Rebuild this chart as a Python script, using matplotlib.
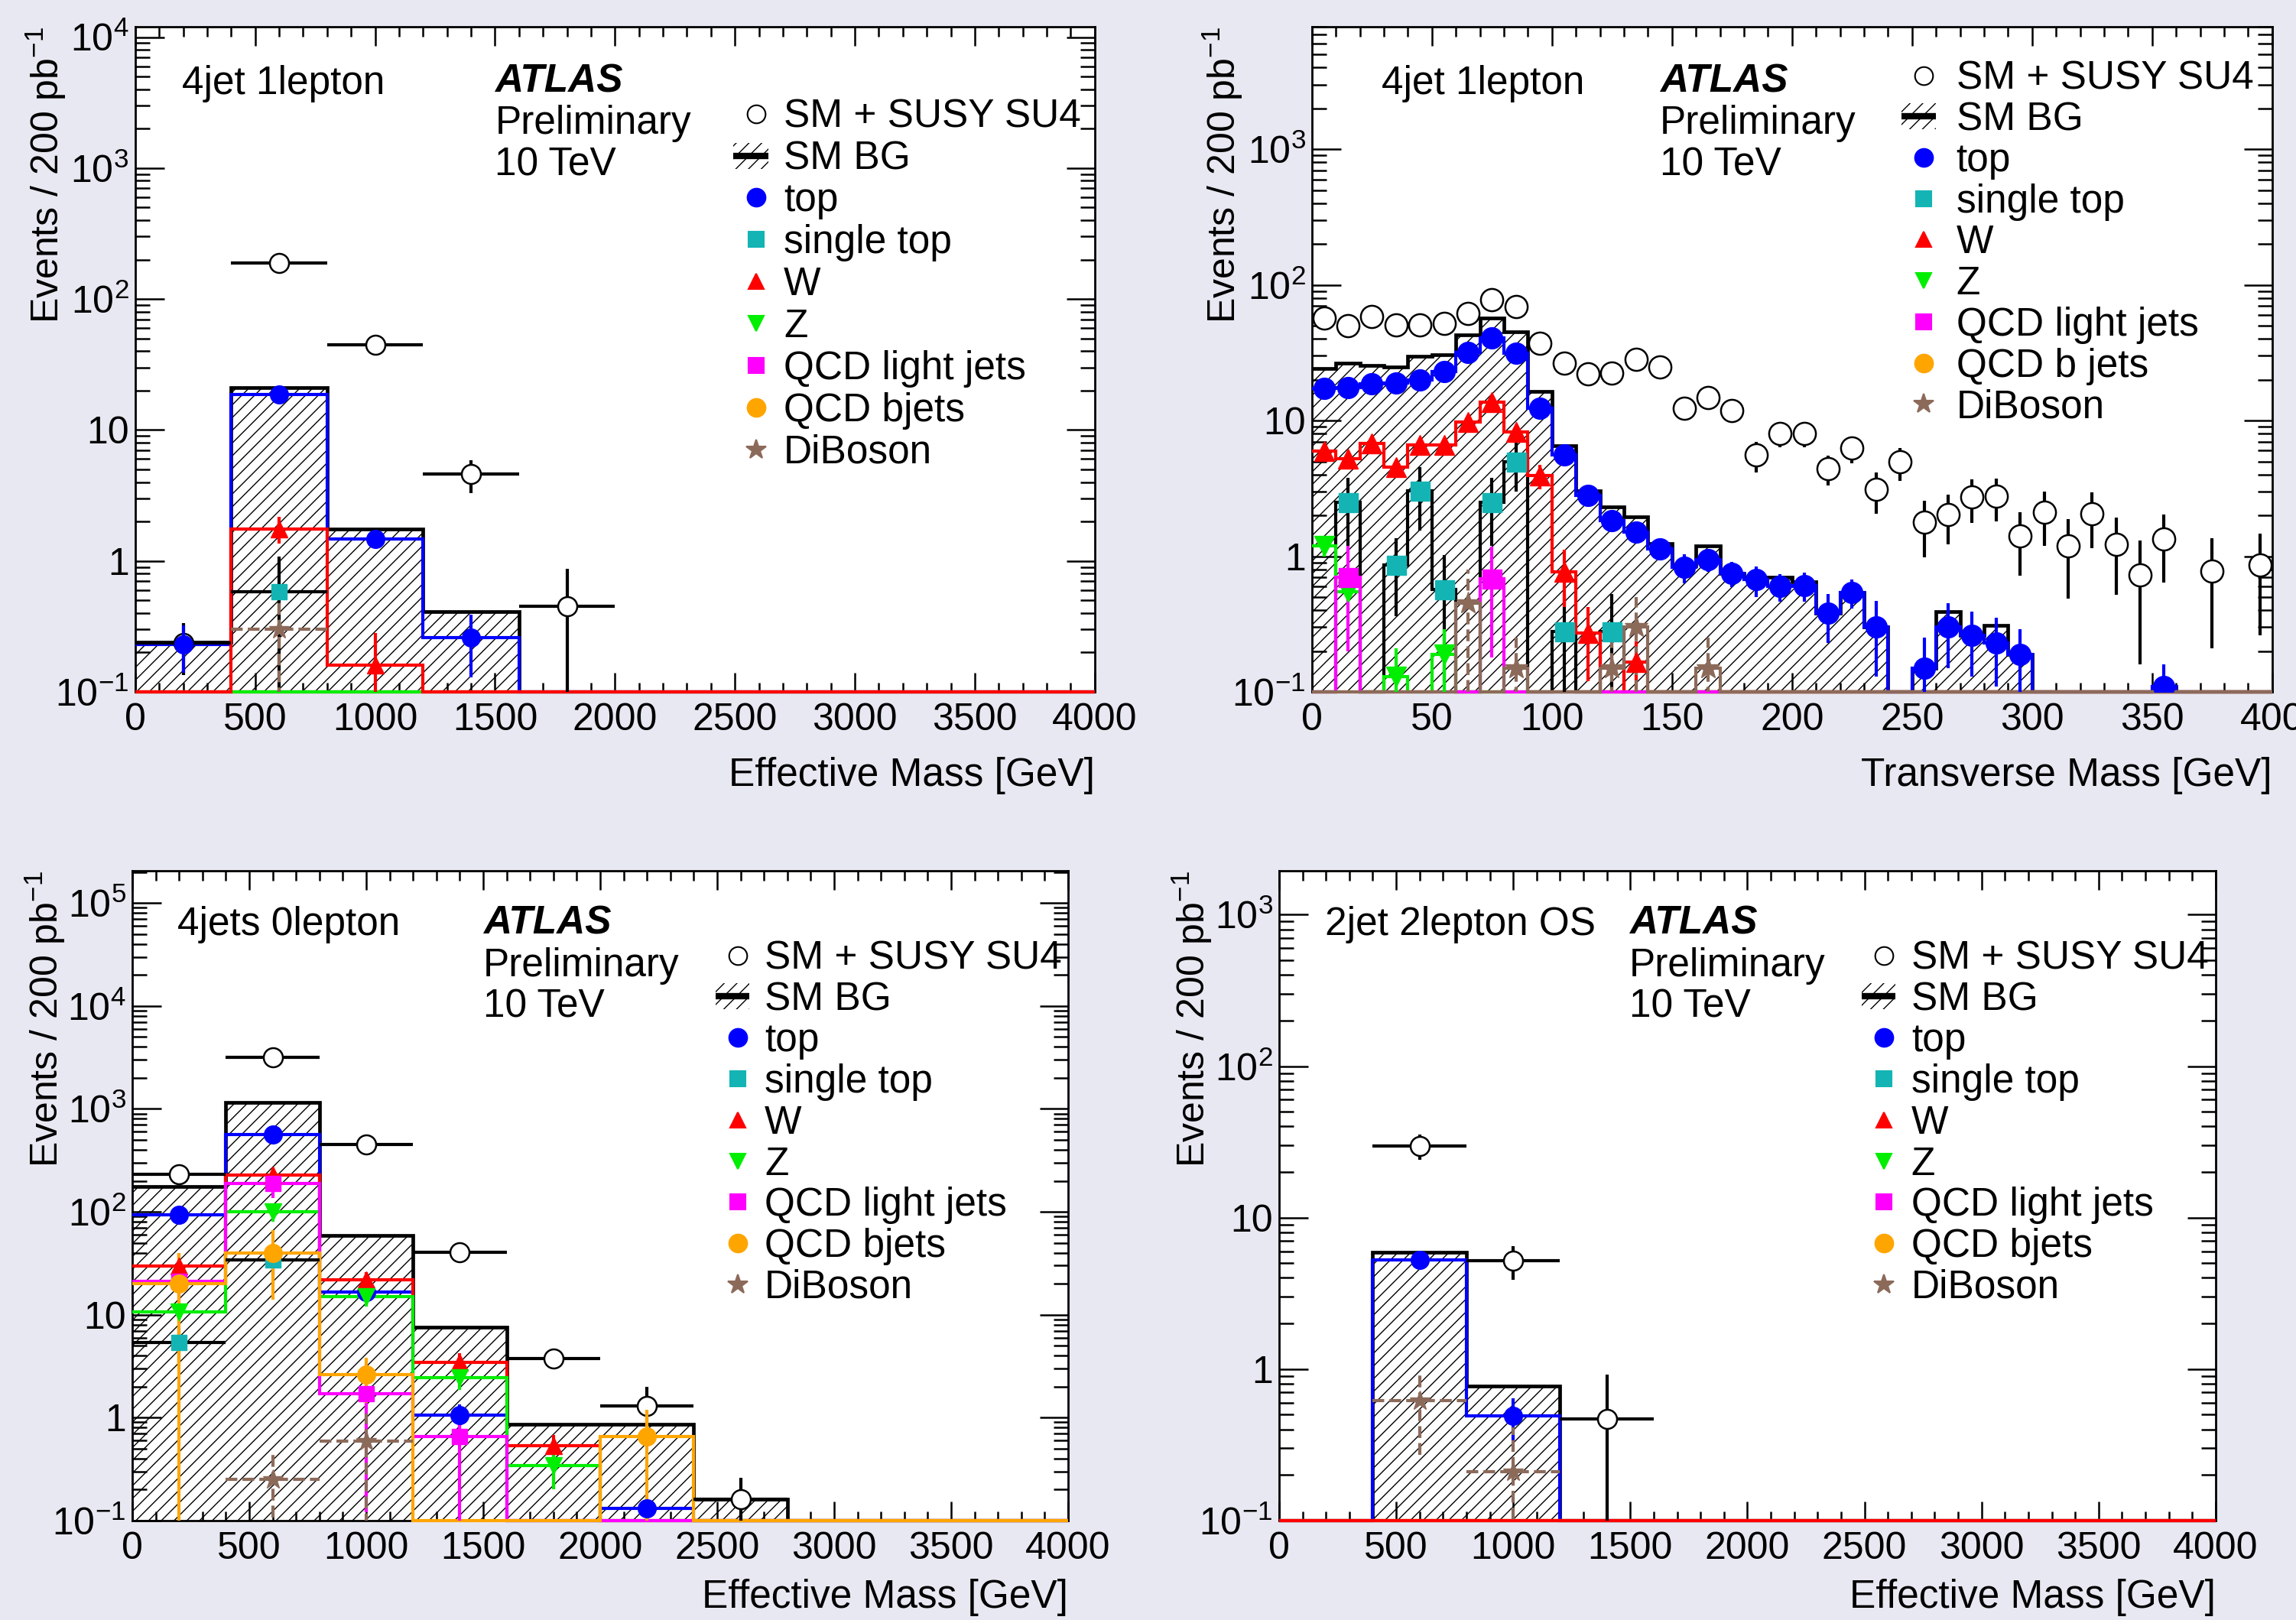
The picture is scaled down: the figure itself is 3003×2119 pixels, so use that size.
import numpy as np
import matplotlib
matplotlib.use('Agg')
import matplotlib.pyplot as plt
from matplotlib.patches import Rectangle
from matplotlib.ticker import LogLocator, MultipleLocator, FuncFormatter, NullFormatter

plt.rcParams['font.family'] = ['Liberation Sans', 'DejaVu Sans']
plt.rcParams['mathtext.fontset'] = 'custom'
plt.rcParams['mathtext.rm'] = 'Liberation Sans'
plt.rcParams['mathtext.it'] = 'Liberation Sans:italic'
plt.rcParams['mathtext.bf'] = 'Liberation Sans:bold'
plt.rcParams['hatch.linewidth'] = 1.0
plt.rcParams['hatch.color'] = 'black'

BG = '#e8e8f2'
COLORS = {'top': '#0000ff', 'stop': '#14b4b4', 'w': '#ff0000', 'z': '#00ee00',
          'ql': '#ff00ff', 'qb': '#ffa500', 'vv': '#8c6a5a'}
YMIN = 0.1

# ---------------- data ----------------
meff_edges = np.arange(0, 4001, 400)
mt_edges = np.arange(0, 401, 10)

# 4jet 1lepton, effective mass
p1_susy = [0.235, 188, 44.7, 4.6, 0.45, 0, 0, 0, 0, 0]
p1_susy_err = [0.1, 14, 6.7, 1.3, 0.42, 0, 0, 0, 0, 0]
p1_bg = [0.24, 21, 1.76, 0.41, 0, 0, 0, 0, 0, 0]
p1_top = [0.23, 18.6, 1.47, 0.26, 0, 0, 0, 0, 0, 0]
p1_top_err = [0.09, 1.2, 0.15, 0.13, 0, 0, 0, 0, 0, 0]
p1_stop = [0, 0.58, 0, 0, 0, 0, 0, 0, 0, 0]
p1_stop_err = [0, 0.5, 0, 0, 0, 0, 0, 0, 0, 0]
p1_w = [0, 1.76, 0.16, 0, 0, 0, 0, 0, 0, 0]
p1_w_err = [0, 0.4, 0.12, 0, 0, 0, 0, 0, 0, 0]
p1_z = [0, 0, 0, 0, 0, 0, 0, 0, 0, 0]
p1_ql = [0, 0, 0, 0, 0, 0, 0, 0, 0, 0]
p1_qb = [0, 0, 0, 0, 0, 0, 0, 0, 0, 0]
p1_vv = [0, 0.3, 0, 0, 0, 0, 0, 0, 0, 0]
p1_vv_err = [0, 0.28, 0, 0, 0, 0, 0, 0, 0, 0]

# 4jet 1lepton, transverse mass
p2_susy = [56.8, 50, 58.8, 50.8, 50.8, 52, 61.5, 78, 69, 37,
           26.4, 22.2, 22.5, 28.2, 24.8, 12.4, 14.7, 11.8, 5.55, 8.05,
           8.05, 4.43, 6.25, 3.12, 4.94, 1.78, 2.03, 2.73, 2.78, 1.42,
           2.1, 1.19, 2.05, 1.22, 0.73, 1.34, 0, 0.78, 0, 0.86]
p2_susy_err = [5.5, 5, 5.5, 5, 5, 5, 6, 7, 6.5, 4.5,
               3, 2.7, 2.7, 3, 2.8, 1.8, 2, 1.8, 1.4, 1.7,
               1.7, 1.1, 1.4, 1.05, 1.35, 0.8, 0.8, 0.97, 0.97, 0.7,
               0.9, 0.7, 0.9, 0.7, 0.57, 0.7, 0, 0.57, 0, 0.6]
p2_bg = [24.2, 26.4, 25.6, 24.8, 29.6, 30.7, 42.6, 57.2, 45.1, 16.3,
         6.55, 3.04, 2.32, 1.96, 1.24, 0.85, 1.19, 0.75, 0.70, 0.70,
         0.65, 0.38, 0.54, 0.30, 0, 0.15, 0.39, 0.26, 0.31, 0.19,
         0, 0, 0, 0, 0, 0.11, 0, 0, 0, 0]
p2_top = [17.3, 17.5, 18.6, 18.8, 19.8, 23.1, 31.9, 40.5, 31.5, 12.4,
          5.6, 2.8, 1.82, 1.51, 1.13, 0.83, 0.94, 0.75, 0.67, 0.60,
          0.61, 0.38, 0.54, 0.30, 0, 0.15, 0.30, 0.26, 0.23, 0.19,
          0, 0, 0, 0, 0, 0.11, 0, 0, 0, 0]
p2_top_err = [0.9, 0.9, 0.9, 0.9, 1, 1.1, 1.5, 2, 1.5, 0.8,
              0.5, 0.3, 0.25, 0.2, 0.15, 0.2, 0.17, 0.16, 0.17, 0.14,
              0.15, 0.15, 0.13, 0.17, 0, 0.1, 0.15, 0.13, 0.12, 0.1,
              0, 0, 0, 0, 0, 0.05, 0, 0, 0, 0]
p2_stop = [0, 2.5, 0, 0.86, 3.04, 0.57, 0, 2.5, 4.99, 0,
           0.28, 0, 0.28] + [0] * 27
p2_stop_err = [0, 1.3, 0, 0.5, 1.5, 0.45, 0, 1.3, 2.0, 0,
               0.25, 0, 0.25] + [0] * 27
p2_w = [5.96, 5.24, 6.8, 4.54, 6.64, 6.64, 9.8, 13.6, 8.24, 3.93,
        0.77, 0.27, 0, 0.167] + [0] * 26
p2_w_err = [0.4, 0.4, 0.5, 0.5, 0.5, 0.5, 0.7, 0.9, 0.7, 0.8,
            0.35, 0.15, 0, 0.07] + [0] * 26
p2_z = [1.19, 0.55, 0, 0.13, 0, 0.19] + [0] * 34
p2_z_err = [0.2, 0.1, 0, 0.08, 0, 0.1] + [0] * 34
p2_ql = [0, 0.70, 0, 0, 0, 0, 0, 0.68] + [0] * 32
p2_ql_err = [0, 0.5, 0, 0, 0, 0, 0, 0.5] + [0] * 32
p2_qb = [0] * 40
p2_vv = [0, 0, 0, 0, 0, 0, 0.45, 0, 0.15, 0, 0, 0, 0.15, 0.30, 0, 0, 0.15] + [0] * 23
p2_vv_err = [0, 0, 0, 0, 0, 0, 0.35, 0, 0.1, 0, 0, 0, 0.1, 0.2, 0, 0, 0.1] + [0] * 23

# 4jets 0lepton, effective mass
p3_susy = [230, 3180, 449, 40.6, 3.76, 1.29, 0.16, 0, 0, 0]
p3_susy_err = [15, 56, 21, 6, 0.5, 0.7, 0.1, 0, 0, 0]
p3_bg = [175, 1155, 58.6, 7.6, 0.855, 0.86, 0.16, 0, 0, 0]
p3_top = [93, 560, 16.6, 1.05, 0, 0.132, 0, 0, 0, 0]
p3_top_err = [5, 30, 2, 0.3, 0, 0.03, 0, 0, 0, 0]
p3_stop = [5.4, 34, 0, 0, 0, 0, 0, 0, 0, 0]
p3_stop_err = [2, 10, 0, 0, 0, 0, 0, 0, 0, 0]
p3_w = [29.7, 228, 22, 3.44, 0.53, 0, 0, 0, 0, 0]
p3_w_err = [10, 40, 4, 0.8, 0.15, 0, 0, 0, 0, 0]
p3_z = [10.7, 100, 15, 2.45, 0.34, 0, 0, 0, 0, 0]
p3_z_err = [2.5, 20, 3, 0.6, 0.14, 0, 0, 0, 0, 0]
p3_ql = [21, 187, 1.72, 0.66, 0, 0, 0, 0, 0, 0]
p3_ql_err = [8, 50, 1.6, 0.6, 0, 0, 0, 0, 0, 0]
p3_qb = [20, 40, 2.6, 0, 0, 0.65, 0, 0, 0, 0]
p3_qb_err = [20, 26, 1.2, 0, 0, 0.55, 0, 0, 0, 0]
p3_vv = [0, 0.25, 0.59, 0, 0, 0, 0, 0, 0, 0]
p3_vv_err = [0, 0.2, 0.5, 0, 0, 0, 0, 0, 0, 0]

# 2jet 2lepton OS, effective mass
p4_susy = [0, 29.7, 5.19, 0.47, 0, 0, 0, 0, 0, 0]
p4_susy_err = [0, 5.5, 1.3, 0.45, 0, 0, 0, 0, 0, 0]
p4_bg = [0, 5.9, 0.77, 0, 0, 0, 0, 0, 0, 0]
p4_top = [0, 5.27, 0.49, 0, 0, 0, 0, 0, 0, 0]
p4_top_err = [0, 0.5, 0.15, 0, 0, 0, 0, 0, 0, 0]
p4_vv = [0, 0.62, 0.21, 0, 0, 0, 0, 0, 0, 0]
p4_vv_err = [0, 0.35, 0.2, 0, 0, 0, 0, 0, 0, 0]
p4_zero = [0] * 10

legend_labels = ['SM + SUSY SU4', 'SM BG', 'top', 'single top', 'W', 'Z',
                 'QCD light jets', 'QCD bjets', 'DiBoson']


def floor(v):
    v = np.asarray(v, float)
    return np.where(v > 0, v, YMIN)


def stairs(ax, edges, vals, color, lw=3.0, z=3):
    ax.stairs(floor(vals), edges, baseline=None, color=color, lw=lw,
              zorder=z, clip_on=False)


def points(ax, edges, vals, errs, color, marker, ms, xerr=False, ecolor=None,
           ls='-', mfc=None, mec=None, mew=1.0, z=6):
    centers = 0.5 * (edges[:-1] + edges[1:])
    vals = np.asarray(vals, float)
    errs = np.asarray(errs, float)
    m = vals > 0
    if not m.any():
        return
    y = vals[m]
    e = errs[m]
    lo = np.minimum(e, y - 1e-4)
    xe = 0.5 * np.diff(edges)[m] if xerr else None
    _, _, bars = ax.errorbar(centers[m], y, yerr=[lo, e], xerr=xe, fmt=marker,
                             ms=ms, color=ecolor or color, mfc=mfc or color,
                             mec=mec or color, mew=mew, elinewidth=3.0,
                             capsize=0, zorder=z)
    for b in bars:
        b.set_linestyle(ls)


def ylab(v, pos):
    e = int(round(np.log10(v)))
    if e == 0:
        return '1'
    if e == 1:
        return '10'
    return r'$\mathregular{10^{%d}}$' % e


def style_axes(ax, xmax, xmajor, xminor, ymax, xlabel, xlab_y):
    ax.set_yscale('log')
    ax.set_xlim(0, xmax)
    ax.set_ylim(YMIN, ymax)
    ax.xaxis.set_major_locator(MultipleLocator(xmajor))
    ax.xaxis.set_minor_locator(MultipleLocator(xminor))
    ax.yaxis.set_major_locator(LogLocator(base=10, numticks=20))
    ax.yaxis.set_minor_locator(LogLocator(base=10, subs=np.arange(2, 10), numticks=20))
    ax.yaxis.set_major_formatter(FuncFormatter(ylab))
    ax.yaxis.set_minor_formatter(NullFormatter())
    ax.tick_params(axis='both', which='both', direction='in', top=True, right=True,
                   width=1.8, colors='black')
    ax.tick_params(axis='x', which='major', length=18, labelsize=36, pad=10)
    ax.tick_params(axis='x', which='minor', length=9)
    ax.tick_params(axis='y', which='major', length=27, labelsize=36, pad=6)
    ax.tick_params(axis='y', which='minor', length=14)
    for s in ax.spines.values():
        s.set_linewidth(2.0)
    ax.text(1.0, xlab_y, xlabel, transform=ax.transAxes, ha='right', va='center',
            fontsize=37)
    ax.text(-0.093, 1.0, r'Events / 200 pb$^{\mathregular{-1}}$', transform=ax.transAxes,
            rotation=90, ha='center', va='top', fontsize=36)


def header(ax, tag, tag_x, atlas_x, ys):
    ax.text(tag_x, ys[0], tag, transform=ax.transAxes, fontsize=37, va='baseline')
    ax.text(atlas_x, ys[1], 'ATLAS', transform=ax.transAxes, fontsize=37,
            va='baseline', fontweight='bold', fontstyle='italic')
    ax.text(atlas_x, ys[2], 'Preliminary', transform=ax.transAxes, fontsize=37, va='baseline')
    ax.text(atlas_x, ys[3], '10 TeV', transform=ax.transAxes, fontsize=37, va='baseline')


def legend(ax, mx, tx, y0, dy, labels, ax_h_px):
    cap = 18.0 / ax_h_px
    handles = [('o', 'white', 'black'), None, ('o', COLORS['top'], COLORS['top']),
               ('s', COLORS['stop'], COLORS['stop']), ('^', COLORS['w'], COLORS['w']),
               ('v', COLORS['z'], COLORS['z']), ('s', COLORS['ql'], COLORS['ql']),
               ('o', COLORS['qb'], COLORS['qb']), ('*', COLORS['vv'], COLORS['vv'])]
    for i, (lab, h) in enumerate(zip(labels, handles)):
        yb = y0 - i * dy
        yc = yb + cap
        ax.text(tx, yb, lab, transform=ax.transAxes, fontsize=37, va='baseline')
        if h is None:
            w = 0.036
            hh = 34.0 / ax_h_px
            ax.add_patch(Rectangle((mx - w * 0.65, yc - hh / 2), w, hh, transform=ax.transAxes,
                                   fill=False, hatch='//', lw=0, clip_on=False))
            ax.plot([mx - w * 0.65, mx + w * 0.35], [yc, yc], color='black', lw=6,
                    transform=ax.transAxes, clip_on=False, solid_capstyle='butt')
        else:
            mk, fc, ec = h
            ms = {'o': 17, 's': 15, '^': 15, 'v': 15, '*': 19}[mk]
            ax.plot([mx], [yc], marker=mk, ms=ms, mfc=fc, mec=ec, mew=1.5,
                    ls='none', transform=ax.transAxes, clip_on=False)


def panel(ax, edges, susy, susy_err, bg, comps, order, as_points, ms):
    ax.stairs(floor(bg), edges, baseline=YMIN, fill=True, facecolor='none',
              edgecolor='black', hatch='//', lw=0, zorder=1)
    ax.stairs(floor(bg), edges, baseline=None, color='black', lw=3.4, zorder=2)
    markers = {'top': 'o', 'stop': 's', 'w': '^', 'z': 'v', 'ql': 's', 'qb': 'o', 'vv': '*'}
    msz = {'o': ms, 's': ms - 2, '^': ms - 1, 'v': ms - 1, '*': ms + 2}
    for key in order:
        vals, errs = comps[key]
        col = COLORS[key]
        mk = markers[key]
        ls = '--' if key == 'vv' else '-'
        if key in as_points:
            ec = 'black' if key == 'stop' else col
            points(ax, edges, vals, errs, col, mk, msz[mk], xerr=True, ecolor=ec, ls=ls)
        else:
            line_col = 'black' if key == 'stop' else col
            stairs(ax, edges, vals, line_col)
            points(ax, edges, vals, errs, col, mk, msz[mk], ecolor=line_col, ls=ls)
    points(ax, edges, susy, susy_err, 'black', 'o', ms + 1, xerr=(len(edges) < 20),
           mfc='white', mec='black', mew=1.8, z=5)


fig = plt.figure(figsize=(30.03, 21.19), dpi=100, facecolor=BG)
H = 2119

ax1 = fig.add_axes([0.0589, 0.5729, 0.4179, 0.4106])
ax2 = fig.add_axes([0.5714, 0.5729, 0.4182, 0.4106])
ax3 = fig.add_axes([0.0576, 0.0614, 0.4076, 0.4011])
ax4 = fig.add_axes([0.5571, 0.0614, 0.4079, 0.4011])

top_y = [0.8993, 0.9016, 0.8385, 0.776]
bot_y = [0.9006, 0.9024, 0.838, 0.7745]

# panel 1
panel(ax1, meff_edges, p1_susy, p1_susy_err, p1_bg,
      {'top': (p1_top, p1_top_err), 'stop': (p1_stop, p1_stop_err),
       'w': (p1_w, p1_w_err), 'z': (p1_z, p1_z), 'ql': (p1_ql, p1_ql),
       'qb': (p1_qb, p1_qb), 'vv': (p1_vv, p1_vv_err)},
      ['top', 'stop', 'ql', 'qb', 'z', 'vv', 'w'], ['stop', 'vv'], 17)
style_axes(ax1, 4000, 500, 100, 1.2e4, 'Effective Mass [GeV]', -0.126)
header(ax1, '4jet 1lepton', 0.049, 0.375, top_y)
legend(ax1, 0.647, 0.676, 0.8486, 0.0631, legend_labels, 0.4106 * H)

# panel 2
panel(ax2, mt_edges, p2_susy, p2_susy_err, p2_bg,
      {'top': (p2_top, p2_top_err), 'stop': (p2_stop, p2_stop_err),
       'w': (p2_w, p2_w_err), 'z': (p2_z, p2_z_err), 'ql': (p2_ql, p2_ql_err),
       'qb': (p2_qb, p2_qb), 'vv': (p2_vv, p2_vv_err)},
      ['top', 'stop', 'w', 'z', 'qb', 'ql', 'vv'], [], 20)
style_axes(ax2, 400, 50, 10, 8000, 'Transverse Mass [GeV]', -0.126)
header(ax2, '4jet 1lepton', 0.0725, 0.3623, top_y)
legend(ax2, 0.637, 0.671, 0.906, 0.0617,
       legend_labels[:7] + ['QCD b jets', 'DiBoson'], 0.4106 * H)

# panel 3
panel(ax3, meff_edges, p3_susy, p3_susy_err, p3_bg,
      {'top': (p3_top, p3_top_err), 'stop': (p3_stop, p3_stop_err),
       'w': (p3_w, p3_w_err), 'z': (p3_z, p3_z_err), 'ql': (p3_ql, p3_ql_err),
       'qb': (p3_qb, p3_qb_err), 'vv': (p3_vv, p3_vv_err)},
      ['top', 'stop', 'w', 'z', 'ql', 'vv', 'qb'], ['stop', 'vv'], 17)
style_axes(ax3, 4000, 500, 100, 2.06e5, 'Effective Mass [GeV]', -0.118)
header(ax3, '4jets 0lepton', 0.0486, 0.3747, bot_y)
legend(ax3, 0.6467, 0.6757, 0.8487, 0.0633, legend_labels, 0.4011 * H)

# panel 4
panel(ax4, meff_edges, p4_susy, p4_susy_err, p4_bg,
      {'top': (p4_top, p4_top_err), 'stop': (p4_zero, p4_zero),
       'w': (p4_zero, p4_zero), 'z': (p4_zero, p4_zero), 'ql': (p4_zero, p4_zero),
       'qb': (p4_zero, p4_zero), 'vv': (p4_vv, p4_vv_err)},
      ['top', 'ql', 'qb', 'z', 'stop', 'vv', 'w'], ['stop', 'vv'], 17)
style_axes(ax4, 4000, 500, 100, 1950, 'Effective Mass [GeV]', -0.118)
header(ax4, '2jet 2lepton OS', 0.049, 0.3738, bot_y)
legend(ax4, 0.6454, 0.675, 0.8487, 0.0633, legend_labels, 0.4011 * H)

fig.savefig('out.png', dpi=100, facecolor=BG)
